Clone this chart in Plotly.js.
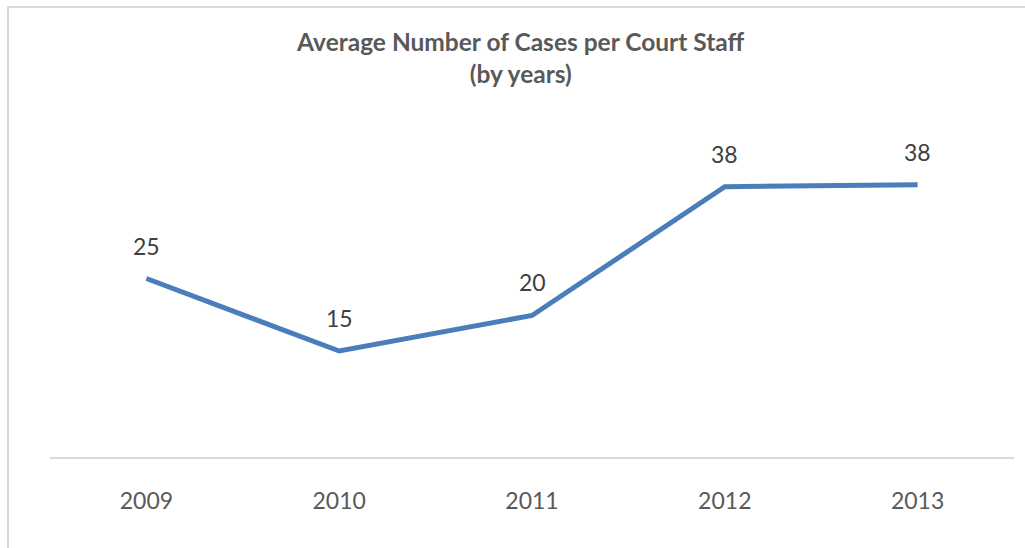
<!DOCTYPE html>
<html>
<head>
<meta charset="utf-8">
<script src="https://cdn.plot.ly/plotly-3.0.1.min.js"></script>
<style>
html,body{margin:0;padding:0;background:#fff;overflow:hidden;}
#chart{width:1025px;height:548px;}
#frame{position:absolute;left:7px;top:6px;width:3000px;height:3000px;border-left:2px solid #d9d9d9;border-top:2px solid #d9d9d9;pointer-events:none;}
</style>
</head>
<body>
<div id="chart"></div>
<div id="frame"></div>
<script>
var years = ['2009', '2010', '2011', '2012', '2013'];
var cases = [25.1, 14.9, 19.9, 38.0, 38.3];
var labels = cases.map(function(v){ return String(Math.round(v)); });

var trace = {
  x: years,
  y: cases,
  type: 'scatter',
  mode: 'lines',
  line: {color: '#4a7ebb', width: 5},
  hoverinfo: 'skip'
};

var annotations = years.map(function(yr, i){
  return {
    x: i, y: cases[i], xref: 'x', yref: 'y',
    text: labels[i], showarrow: false,
    yshift: 33,
    font: {family: 'Lato, sans-serif', size: 23, color: '#404040'}
  };
});

var layout = {
  width: 1025, height: 548,
  margin: {l: 50, r: 11, t: 137, b: 91},
  paper_bgcolor: '#ffffff',
  plot_bgcolor: '#ffffff',
  showlegend: false,
  title: {
    text: "<span style='font-size:24.5px'>Average Number of Cases per Court Staff</span><br><span style='font-size:24.5px'>(by years)</span>",
    font: {family: 'Lato, sans-serif', size: 25, color: '#595959', weight: 'bold'},
    x: 0.508, xref: 'container', xanchor: 'center',
    y: 0.907, yref: 'container', yanchor: 'top'
  },
  xaxis: {
    type: 'category',
    range: [-0.5, 4.5],
    showgrid: false,
    zeroline: false,
    showline: true,
    linecolor: '#d9d9d9',
    linewidth: 2,
    ticks: 'outside',
    ticklen: 22,
    tickcolor: 'rgba(0,0,0,0)',
    tickfont: {family: 'Lato, sans-serif', size: 23, color: '#595959'},
    fixedrange: true
  },
  yaxis: {
    range: [0, 45],
    visible: false,
    showgrid: false,
    zeroline: false,
    fixedrange: true
  },
  annotations: annotations
};

Plotly.newPlot('chart', [trace], layout, {displayModeBar: false, staticPlot: true});
</script>
</body>
</html>
